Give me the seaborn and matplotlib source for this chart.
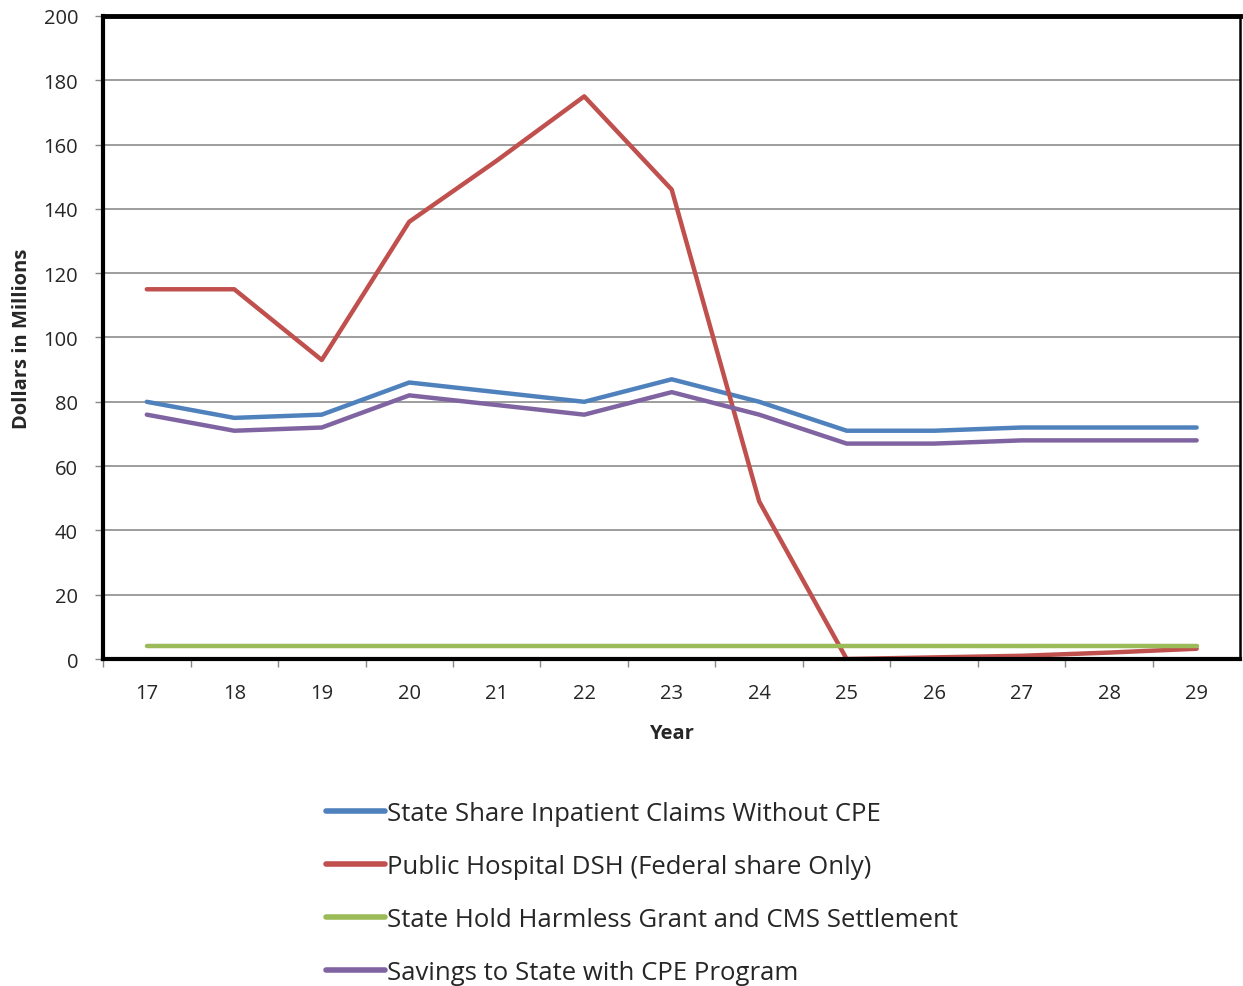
import pandas as pd
import matplotlib.pyplot as plt
import seaborn as sns

years = [17, 18, 19, 20, 21, 22, 23, 24, 25, 26, 27, 28, 29]
state_share = [80, 75, 76, 86, 83, 80, 87, 80, 71, 71, 72, 72, 72]
public_dsh = [115, 115, 93, 136, 155, 175, 146, 49, 0, 0.5, 1, 2, 3.2]
hold_harmless = [4, 4, 4, 4, 4, 4, 4, 4, 4, 4, 4, 4, 4]
savings = [76, 71, 72, 82, 79, 76, 83, 76, 67, 67, 68, 68, 68]

series_names = [
    "State Share Inpatient Claims Without CPE",
    "Public Hospital DSH (Federal share Only)",
    "State Hold Harmless Grant and CMS Settlement",
    "Savings to State with CPE Program",
]
colors = ["#4F81BD", "#C0504D", "#9BBB59", "#8064A2"]

frames = []
for name, vals in zip(series_names, [state_share, public_dsh, hold_harmless, savings]):
    frames.append(pd.DataFrame({"Year": years, "Value": vals, "Series": name}))
df = pd.concat(frames, ignore_index=True)

sns.set_style("white")
plt.rcParams['font.family'] = ['Open Sans', 'DejaVu Sans']

fig = plt.figure(figsize=(12.43, 9.87), dpi=100)
ax = fig.add_axes([0.0829, 0.3313, 0.915, 0.6515])

sns.lineplot(data=df, x="Year", y="Value", hue="Series", hue_order=series_names,
             palette=colors, linewidth=3.2, ax=ax, legend=False)

ax.set_xlim(16.5, 29.5)
ax.set_ylim(0, 200)
ax.set_yticks(range(0, 201, 20))
ax.set_xticks(years)
ax.set_xticks([y + 0.5 for y in years[:-1]] + [16.5], minor=True)
ax.yaxis.grid(True, color="#8c8c8c", linewidth=1.2)
ax.set_axisbelow(True)

ax.tick_params(axis="y", which="major", left=True, length=6, width=1, color="#888888",
               labelsize=14.5, pad=12)
ax.tick_params(axis="x", which="major", bottom=False, labelsize=14.5, pad=14)
ax.tick_params(axis="x", which="minor", bottom=True, length=6, width=1, color="#888888")

for side, lw in [("left", 3.0), ("bottom", 3.0), ("top", 3.5), ("right", 1.8)]:
    ax.spines[side].set_visible(True)
    ax.spines[side].set_color("black")
    ax.spines[side].set_linewidth(lw)

ax.set_xlabel("Year", fontsize=14.5, fontweight="bold", labelpad=14)
ax.set_ylabel("Dollars in Millions", fontsize=14.5, fontweight="bold", labelpad=8)

handles = [plt.Line2D([], [], color=c, linewidth=4) for c in colors]
fig.legend(handles, series_names, loc="upper left", bbox_to_anchor=(0.262, 0.187),
           frameon=False, fontsize=18.5, handlelength=2.3, handletextpad=0.1,
           labelspacing=1.09, borderaxespad=0, borderpad=0)

fig.savefig("out.png", dpi=100)
